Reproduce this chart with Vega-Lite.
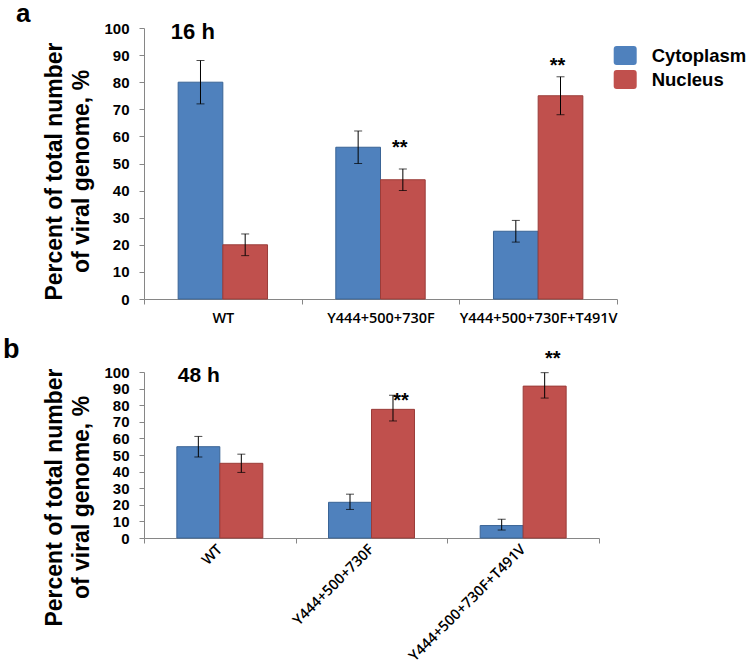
{
  "$schema": "https://vega.github.io/schema/vega-lite/v6.json",
  "padding": {"left": 2, "top": 0, "right": 0, "bottom": 0},
  "background": "white",
  "data": {
    "values": [
      {"panel": "a", "group": "WT", "loc": "Cytoplasm", "value": 80, "lo": 72, "hi": 88},
      {"panel": "a", "group": "WT", "loc": "Nucleus", "value": 20, "lo": 16, "hi": 24},
      {"panel": "a", "group": "Y444+500+730F", "loc": "Cytoplasm", "value": 56, "lo": 50, "hi": 62},
      {"panel": "a", "group": "Y444+500+730F", "loc": "Nucleus", "value": 44, "lo": 40, "hi": 48, "star": 53.4},
      {"panel": "a", "group": "Y444+500+730F+T491V", "loc": "Cytoplasm", "value": 25, "lo": 21, "hi": 29},
      {"panel": "a", "group": "Y444+500+730F+T491V", "loc": "Nucleus", "value": 75, "lo": 68, "hi": 82, "star": 83.6},
      {"panel": "b", "group": "WT", "loc": "Cytoplasm", "value": 55, "lo": 48.8, "hi": 61.2},
      {"panel": "b", "group": "WT", "loc": "Nucleus", "value": 45, "lo": 39.5, "hi": 50.5},
      {"panel": "b", "group": "Y444+500+730F", "loc": "Cytoplasm", "value": 21.5, "lo": 17.2, "hi": 26.4},
      {"panel": "b", "group": "Y444+500+730F", "loc": "Nucleus", "value": 77.5, "lo": 70.5, "hi": 86, "star": 78.8},
      {"panel": "b", "group": "Y444+500+730F+T491V", "loc": "Cytoplasm", "value": 7.5, "lo": 4.8, "hi": 11.3},
      {"panel": "b", "group": "Y444+500+730F+T491V", "loc": "Nucleus", "value": 91.5, "lo": 84.3, "hi": 99.6, "star": 104.4}
    ]
  },
  "spacing": 10,
  "resolve": {"scale": {"color": "independent", "stroke": "independent", "x": "independent", "y": "independent", "xOffset": "independent"}},
  "vconcat": [
    {
      "title": {"text": "a", "anchor": "start", "frame": "bounds", "fontSize": 26, "font": "Liberation Sans", "fontWeight": "bold", "color": "black", "dx": -28, "offset": -6},
      "width": 473,
      "height": 271,
      "transform": [{"filter": "datum.panel == 'a'"}],
      "layer": [
        {
          "mark": {"type": "bar", "strokeWidth": 1},
          "encoding": {
            "x": {"field": "group", "type": "nominal", "sort": ["WT", "Y444+500+730F", "Y444+500+730F+T491V"], "scale": {"paddingInner": 0, "paddingOuter": 0},
              "axis": {"labelAngle": 0, "labelPadding": 7}},
            "xOffset": {"field": "loc", "type": "nominal", "sort": ["Cytoplasm", "Nucleus"], "scale": {"paddingInner": 0, "paddingOuter": 0.764}},
            "y": {"field": "value", "type": "quantitative", "scale": {"domain": [0, 100], "nice": false},
              "axis": {"values": [0, 10, 20, 30, 40, 50, 60, 70, 80, 90, 100], "title": ["Percent of total number", "of viral genome, %"], "titleY": 143}},
            "color": {"field": "loc", "type": "nominal", "sort": ["Cytoplasm", "Nucleus"], "scale": {"domain": ["Cytoplasm", "Nucleus"], "range": ["#4F81BD", "#C0504D"]},
              "legend": {"title": null, "orient": "none", "legendX": 469.7, "legendY": 16, "padding": 0, "symbolType": "M-0.74,-0.826L0.74,-0.826Q1,-0.826 1,-0.566L1,0.566Q1,0.826 0.74,0.826L-0.74,0.826Q-1,0.826 -1,0.566L-1,-0.566Q-1,-0.826 -0.74,-0.826Z", "symbolSize": 529, "symbolStrokeWidth": 0, "labelFont": "Liberation Sans", "labelFontWeight": "bold", "labelFontSize": 18.5, "labelColor": "black", "labelOffset": 15, "rowPadding": 3,
                "encode": {"symbols": {"update": {"fill": {"signal": "datum.value === 'Cytoplasm' ? '#0A70C4' : '#C00000'"}, "opacity": {"value": 1}, "fillOpacity": {"value": 1}}}}}},
            "stroke": {"field": "loc", "type": "nominal", "scale": {"domain": ["Cytoplasm", "Nucleus"], "range": ["#3A6496", "#9A3C39"]}, "legend": null}
          }
        },
        {
          "mark": {"type": "rule", "color": "black", "strokeWidth": 1},
          "encoding": {
            "x": {"field": "group", "type": "nominal", "sort": ["WT", "Y444+500+730F", "Y444+500+730F+T491V"], "axis": {"labelAngle": 0, "labelPadding": 7}},
            "xOffset": {"field": "loc", "type": "nominal", "sort": ["Cytoplasm", "Nucleus"]},
            "y": {"field": "lo", "type": "quantitative", "axis": {"values": [0, 10, 20, 30, 40, 50, 60, 70, 80, 90, 100], "title": ["Percent of total number", "of viral genome, %"], "titleY": 143}},
            "y2": {"field": "hi"}
          }
        },
        {
          "mark": {"type": "tick", "color": "black", "thickness": 1, "size": 8},
          "encoding": {
            "x": {"field": "group", "type": "nominal", "sort": ["WT", "Y444+500+730F", "Y444+500+730F+T491V"], "axis": {"labelAngle": 0, "labelPadding": 7}},
            "xOffset": {"field": "loc", "type": "nominal", "sort": ["Cytoplasm", "Nucleus"]},
            "y": {"field": "lo", "type": "quantitative", "axis": {"values": [0, 10, 20, 30, 40, 50, 60, 70, 80, 90, 100], "title": ["Percent of total number", "of viral genome, %"], "titleY": 143}}
          }
        },
        {
          "mark": {"type": "tick", "color": "black", "thickness": 1, "size": 8},
          "encoding": {
            "x": {"field": "group", "type": "nominal", "sort": ["WT", "Y444+500+730F", "Y444+500+730F+T491V"], "axis": {"labelAngle": 0, "labelPadding": 7}},
            "xOffset": {"field": "loc", "type": "nominal", "sort": ["Cytoplasm", "Nucleus"]},
            "y": {"field": "hi", "type": "quantitative", "axis": {"values": [0, 10, 20, 30, 40, 50, 60, 70, 80, 90, 100], "title": ["Percent of total number", "of viral genome, %"], "titleY": 143}}
          }
        },
        {
          "transform": [{"filter": "isValid(datum.star)"}],
          "mark": {"type": "text", "text": "**", "font": "Liberation Sans", "fontWeight": "bold", "fontSize": 20, "color": "black", "align": "center", "baseline": "alphabetic", "dx": -3},
          "encoding": {
            "x": {"field": "group", "type": "nominal", "sort": ["WT", "Y444+500+730F", "Y444+500+730F+T491V"], "axis": {"labelAngle": 0, "labelPadding": 7}},
            "xOffset": {"field": "loc", "type": "nominal", "sort": ["Cytoplasm", "Nucleus"]},
            "y": {"field": "star", "type": "quantitative", "axis": {"values": [0, 10, 20, 30, 40, 50, 60, 70, 80, 90, 100], "title": ["Percent of total number", "of viral genome, %"], "titleY": 143}}
          }
        },
        {
          "data": {"values": [{"t": "16 h"}]},
          "mark": {"type": "text", "font": "Liberation Sans", "fontWeight": "bold", "fontSize": 22, "color": "black", "align": "left", "baseline": "alphabetic", "dx": -52},
          "encoding": {
            "text": {"field": "t"},
            "x": {"datum": "WT", "axis": {"labelAngle": 0, "labelPadding": 7}},
            "y": {"datum": 96.1, "axis": {"values": [0, 10, 20, 30, 40, 50, 60, 70, 80, 90, 100], "title": ["Percent of total number", "of viral genome, %"], "titleY": 143}}
          }
        }
      ]
    },
    {
      "title": {"text": "b", "anchor": "start", "frame": "bounds", "fontSize": 27, "font": "Liberation Sans", "fontWeight": "bold", "color": "black", "dx": -41, "offset": -15},
      "width": 455,
      "height": 166,
      "transform": [{"filter": "datum.panel == 'b'"}],
      "layer": [
        {
          "mark": {"type": "bar", "strokeWidth": 1},
          "encoding": {
            "x": {"field": "group", "type": "nominal", "sort": ["WT", "Y444+500+730F", "Y444+500+730F+T491V"], "scale": {"paddingInner": 0, "paddingOuter": 0},
              "axis": {"labelAngle": -45, "labelAlign": "right", "labelBaseline": "middle", "labelPadding": 4}},
            "xOffset": {"field": "loc", "type": "nominal", "sort": ["Cytoplasm", "Nucleus"], "scale": {"paddingInner": 0, "paddingOuter": 0.764}},
            "y": {"field": "value", "type": "quantitative", "scale": {"domain": [0, 100], "nice": false},
              "axis": {"values": [0, 10, 20, 30, 40, 50, 60, 70, 80, 90, 100], "title": ["Percent of total number", "of viral genome, %"], "titleY": 125}},
            "color": {"field": "loc", "type": "nominal", "scale": {"domain": ["Cytoplasm", "Nucleus"], "range": ["#4F81BD", "#C0504D"]}, "legend": null},
            "stroke": {"field": "loc", "type": "nominal", "scale": {"domain": ["Cytoplasm", "Nucleus"], "range": ["#3A6496", "#9A3C39"]}, "legend": null}
          }
        },
        {
          "mark": {"type": "rule", "color": "black", "strokeWidth": 1},
          "encoding": {
            "x": {"field": "group", "type": "nominal", "sort": ["WT", "Y444+500+730F", "Y444+500+730F+T491V"], "axis": {"labelAngle": -45, "labelAlign": "right", "labelBaseline": "middle", "labelPadding": 4}},
            "xOffset": {"field": "loc", "type": "nominal", "sort": ["Cytoplasm", "Nucleus"]},
            "y": {"field": "lo", "type": "quantitative", "axis": {"values": [0, 10, 20, 30, 40, 50, 60, 70, 80, 90, 100], "title": ["Percent of total number", "of viral genome, %"], "titleY": 125}},
            "y2": {"field": "hi"}
          }
        },
        {
          "mark": {"type": "tick", "color": "black", "thickness": 1, "size": 8},
          "encoding": {
            "x": {"field": "group", "type": "nominal", "sort": ["WT", "Y444+500+730F", "Y444+500+730F+T491V"], "axis": {"labelAngle": -45, "labelAlign": "right", "labelBaseline": "middle", "labelPadding": 4}},
            "xOffset": {"field": "loc", "type": "nominal", "sort": ["Cytoplasm", "Nucleus"]},
            "y": {"field": "lo", "type": "quantitative", "axis": {"values": [0, 10, 20, 30, 40, 50, 60, 70, 80, 90, 100], "title": ["Percent of total number", "of viral genome, %"], "titleY": 125}}
          }
        },
        {
          "mark": {"type": "tick", "color": "black", "thickness": 1, "size": 8},
          "encoding": {
            "x": {"field": "group", "type": "nominal", "sort": ["WT", "Y444+500+730F", "Y444+500+730F+T491V"], "axis": {"labelAngle": -45, "labelAlign": "right", "labelBaseline": "middle", "labelPadding": 4}},
            "xOffset": {"field": "loc", "type": "nominal", "sort": ["Cytoplasm", "Nucleus"]},
            "y": {"field": "hi", "type": "quantitative", "axis": {"values": [0, 10, 20, 30, 40, 50, 60, 70, 80, 90, 100], "title": ["Percent of total number", "of viral genome, %"], "titleY": 125}}
          }
        },
        {
          "transform": [{"filter": "isValid(datum.star)"}],
          "mark": {"type": "text", "text": "**", "font": "Liberation Sans", "fontWeight": "bold", "fontSize": 20, "color": "black", "align": "center", "baseline": "alphabetic", "dx": 8},
          "encoding": {
            "x": {"field": "group", "type": "nominal", "sort": ["WT", "Y444+500+730F", "Y444+500+730F+T491V"], "axis": {"labelAngle": -45, "labelAlign": "right", "labelBaseline": "middle", "labelPadding": 4}},
            "xOffset": {"field": "loc", "type": "nominal", "sort": ["Cytoplasm", "Nucleus"]},
            "y": {"field": "star", "type": "quantitative", "axis": {"values": [0, 10, 20, 30, 40, 50, 60, 70, 80, 90, 100], "title": ["Percent of total number", "of viral genome, %"], "titleY": 125}}
          }
        },
        {
          "data": {"values": [{"t": "48 h"}]},
          "mark": {"type": "text", "font": "Liberation Sans", "fontWeight": "bold", "fontSize": 21, "color": "black", "align": "left", "baseline": "alphabetic", "dx": -42},
          "encoding": {
            "text": {"field": "t"},
            "x": {"datum": "WT", "axis": {"labelAngle": -45, "labelAlign": "right", "labelBaseline": "middle", "labelPadding": 4}},
            "y": {"datum": 94, "axis": {"values": [0, 10, 20, 30, 40, 50, 60, 70, 80, 90, 100], "title": ["Percent of total number", "of viral genome, %"], "titleY": 125}}
          }
        }
      ]
    }
  ],
  "config": {
    "view": {"stroke": null},
    "font": "Liberation Sans",
    "axisY": {"labelOverlap": false, "labelFont": "Liberation Sans", "labelFontWeight": "bold", "labelFontSize": 15, "labelColor": "black", "labelPadding": 10, "tickSize": 5, "tickColor": "#868686", "domainColor": "#868686", "grid": false, "titleFontSize": 23, "titleFont": "Liberation Sans", "titleFontWeight": "bold", "titleColor": "black", "titlePadding": 10, "titleLineHeight": 27},
    "axisX": {"title": null, "labelOverlap": false, "tickBand": "extent", "tickSize": 5, "labelFont": "Open Sans", "labelFontWeight": 600, "labelFontSize": 14.5, "labelColor": "black", "domainColor": "#868686", "tickColor": "#868686", "grid": false}
  }
}
